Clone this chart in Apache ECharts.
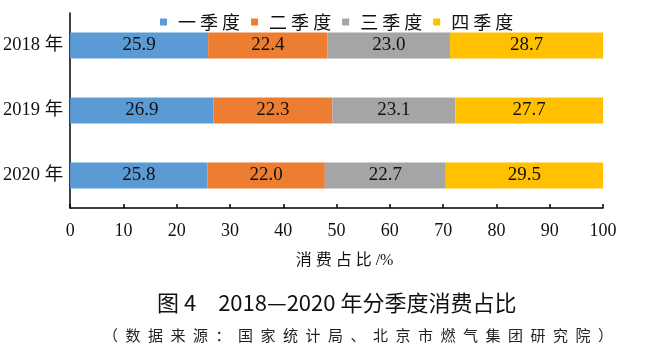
<!DOCTYPE html>
<html>
<head>
<meta charset="utf-8">
<script src="https://cdn.jsdelivr.net/npm/echarts@6/dist/echarts.min.js"></script>
<style>
  html, body { margin: 0; padding: 0; background: #fff; }
  #chart { width: 647px; height: 353px; }
</style>
</head>
<body>
<div id="chart"></div>
<script>
// 年份与各季度占比（%）
var years = ['2018 年', '2019 年', '2020 年'];
var q1 = [25.9, 26.9, 25.8];
var q2 = [22.4, 22.3, 22.0];
var q3 = [23.0, 23.1, 22.7];
var q4 = [28.7, 27.7, 29.5];
var seriesNames = ['一季度', '二季度', '三季度', '四季度'];
var colors = ['#5B9BD5', '#ED7D31', '#A5A5A5', '#FFC000'];

var serif = '"Liberation Serif", "Noto Sans CJK SC", serif';
var cjk = '"Noto Sans CJK SC", sans-serif';

// 字间留空，仿原图的宽字距
function spaced(s, sp) {
    return s.split('').join(sp);
}

function makeSeries(name, data) {
    return {
        name: name,
        type: 'bar',
        stack: 'total',
        barWidth: 26,
        data: data,
        label: {
            show: true,
            position: 'inside',
            color: '#111',
            fontFamily: serif,
            fontSize: 19,
            formatter: function (p) { return p.value.toFixed(1); }
        }
    };
}

var myChart = echarts.init(document.getElementById('chart'));
myChart.setOption({
    animation: false,
    color: colors,
    title: [{
        text: '图 4\u30002018—2020 年分季度消费占比',
        left: 152,
        top: 287,
        textStyle: { fontFamily: cjk, fontSize: 22, fontWeight: 'normal', color: '#111' }
    }, {
        text: spaced('（数据来源：国家统计局、北京市燃气集团研究院）', '\u2002'),
        left: 98,
        top: 323,
        textStyle: { fontFamily: cjk, fontSize: 15, fontWeight: 'normal', color: '#222' }
    }],
    legend: {
        data: seriesNames,
        top: 8,
        left: 155,
        itemWidth: 7,
        itemHeight: 7,
        itemGap: 11,
        icon: 'rect',
        textStyle: { fontFamily: cjk, fontSize: 18, color: '#111', padding: [0, 0, 0, 6] },
        formatter: function (n) { return spaced(n, ' '); }
    },
    grid: { left: 69, right: 44, top: 13, bottom: 145, containLabel: false },
    xAxis: {
        type: 'value',
        min: 0,
        max: 100,
        interval: 10,
        name: '消 费 占 比 /%',
        nameLocation: 'middle',
        nameGap: 45,
        nameTextStyle: { fontFamily: serif, fontSize: 16, color: '#111', padding: [0, 0, 0, 16] },
        axisLine: { show: true, lineStyle: { color: '#000', width: 1.5 } },
        axisTick: { show: true, inside: true, length: 4, lineStyle: { color: '#000', width: 1.5 } },
        axisLabel: { fontFamily: serif, fontSize: 18, color: '#111', margin: 14 },
        splitLine: { show: false }
    },
    yAxis: {
        type: 'category',
        data: years,
        inverse: true,
        axisLine: { show: true, lineStyle: { color: '#000', width: 1.5 } },
        axisTick: { show: true, inside: true, length: 4, alignWithLabel: true, lineStyle: { color: '#000', width: 1.5 } },
        axisLabel: { fontFamily: serif, fontSize: 18.5, color: '#111', margin: 7 }
    },
    series: [
        makeSeries(seriesNames[0], q1),
        makeSeries(seriesNames[1], q2),
        makeSeries(seriesNames[2], q3),
        makeSeries(seriesNames[3], q4)
    ]
});
</script>
</body>
</html>
